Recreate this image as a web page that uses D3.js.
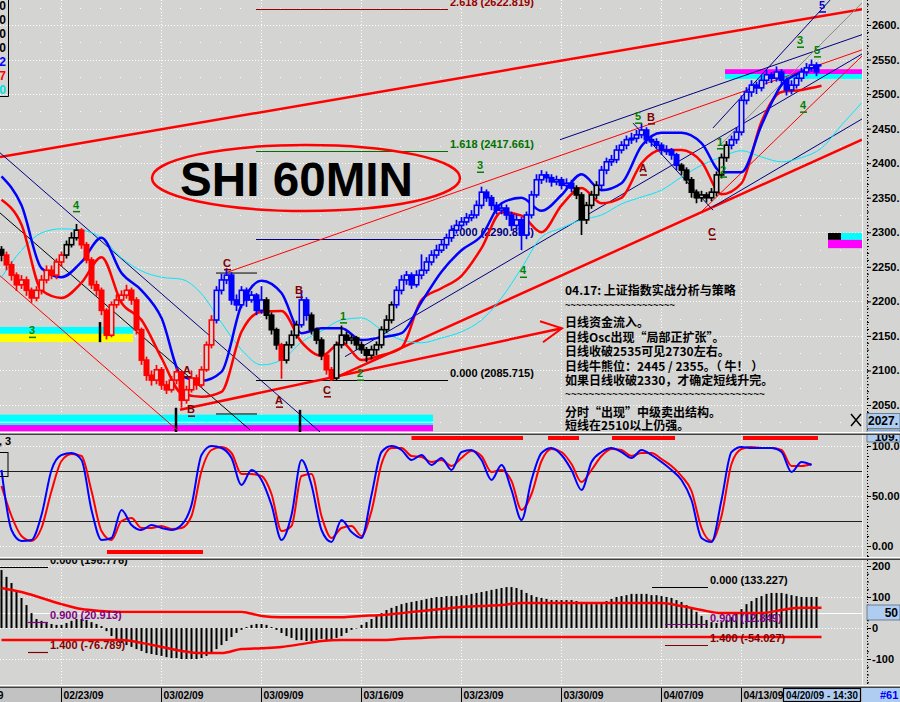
<!DOCTYPE html>
<html><head><meta charset="utf-8">
<script src="https://cdn.jsdelivr.net/npm/d3@7/dist/d3.min.js"></script>
<style>
html,body{margin:0;padding:0;background:#d4d4d2;}
svg{display:block;font-family:"Liberation Sans",Arial,sans-serif;}
</style></head><body>
<svg id="chart" width="900" height="702"></svg>
<script>
// ================= DATA =================
const dateLabels = ["02/16/09","02/23/09","03/02/09","03/09/09","03/16/09","03/23/09","03/30/09","04/07/09","04/13/09"];
const weekStartBar = [-8,12,32,52,72,92,112,132,148];
const priceTicks = [2050,2100,2150,2200,2250,2300,2350,2400,2450,2500,2550,2600];
const oscTicks = [0,50,100];
const oscTickLabels = ["0.00","50.00","100.0"];
const macdTicks = [-100,0,100,200];
const macdTickLabels = ["-100","0","100","200"];

const firstOpen = 2275;
const closes = [
2267,2253,2238,2224,2231,2216,2205,2216,2231,2245,
2238,2257,2267,2282,2292,2303,2282,2260,2224,2216,
2187,2151,2195,2202,2209,2216,2202,2159,2115,2093,
2086,2101,2079,2072,2086,2098,2057,2072,2089,2079,
2101,2137,2173,2216,2231,2238,2202,2195,2216,2202,
2209,2187,2202,2180,2159,2137,2115,2137,2151,2166,
2202,2180,2159,2144,2122,2101,2089,2137,2151,2144,
2147,2137,2130,2122,2130,2137,2159,2173,2195,2216,
2231,2238,2224,2238,2245,2257,2267,2274,2282,2292,
2303,2310,2315,2321,2325,2339,2358,2350,2339,2332,
2335,2325,2310,2318,2296,2325,2354,2376,2383,2379,
2373,2376,2368,2371,2364,2354,2318,2339,2354,2368,
2390,2402,2405,2419,2426,2434,2436,2441,2448,2434,
2431,2426,2419,2419,2412,2397,2390,2376,2358,2350,
2354,2350,2358,2383,2408,2426,2434,2445,2491,2503,
2513,2509,2520,2528,2523,2532,2520,2506,2513,2523,
2532,2538,2542,2532];
const highs = [
2280,2272,2258,2242,2238,2236,2220,2222,2238,2252,
2252,2262,2272,2288,2300,2312,2306,2286,2264,2230,
2220,2190,2200,2210,2216,2224,2220,2206,2162,2120,
2100,2108,2105,2085,2092,2104,2100,2078,2100,2094,
2106,2142,2180,2222,2240,2248,2242,2210,2222,2220,
2215,2212,2222,2206,2184,2162,2140,2142,2158,2172,
2216,2206,2184,2162,2148,2126,2105,2142,2165,2156,
2152,2150,2142,2134,2136,2142,2164,2180,2200,2222,
2238,2244,2242,2245,2268,2264,2274,2282,2290,2298,
2310,2318,2322,2328,2332,2346,2366,2362,2354,2344,
2342,2340,2330,2325,2322,2330,2360,2384,2390,2388,
2384,2382,2380,2378,2376,2368,2358,2344,2360,2374,
2396,2408,2412,2426,2432,2440,2444,2448,2458,2452,
2440,2436,2430,2426,2422,2415,2400,2394,2380,2362,
2360,2358,2364,2388,2414,2432,2440,2452,2498,2510,
2520,2518,2528,2535,2532,2540,2536,2524,2520,2530,
2538,2545,2550,2546];
const lows = [
2258,2245,2230,2215,2218,2208,2198,2200,2210,2226,
2232,2232,2250,2262,2278,2288,2276,2255,2218,2208,
2180,2145,2148,2190,2198,2204,2195,2152,2108,2085,
2078,2080,2072,2066,2068,2080,2046,2052,2068,2072,
2075,2098,2132,2168,2210,2225,2195,2186,2190,2192,
2198,2180,2182,2174,2152,2130,2088,2110,2132,2146,
2162,2172,2152,2138,2115,2094,2085,2086,2132,2138,
2138,2130,2124,2112,2116,2122,2132,2154,2168,2190,
2210,2224,2218,2220,2232,2240,2252,2262,2270,2276,
2286,2298,2305,2310,2316,2320,2334,2344,2332,2326,
2326,2318,2302,2304,2274,2290,2320,2350,2370,2372,
2366,2368,2362,2362,2358,2348,2296,2312,2334,2348,
2362,2384,2396,2400,2414,2420,2428,2430,2436,2428,
2424,2420,2412,2412,2405,2390,2383,2370,2350,2342,
2344,2343,2345,2352,2378,2402,2420,2428,2440,2485,
2496,2500,2504,2514,2516,2518,2512,2498,2500,2508,
2518,2526,2532,2526];
// trend state of each bar: K = neutral (black), R = down (red), B = up (blue)
const trendRuns = [["K",1],["R",12],["K",3],["R",27],["B",10],["K",3],["R",1],["K",3],["B",2],["K",3],["R",2],["K",12],["B",36],["K",5],["B",16],["K",10],["B",18]];

// indicator lines, one value every 4 bars
const bandStep = 4;
const blueBand = [2381,2339,2248,2235,2257,2292,2241,2216,2176,2092,2085,2098,2195,2230,2212,2154,2161,2161,2144,2148,2154,2199,2243,2274,2295,2342,2350,2331,2354,2384,2361,2371,2425,2444,2444,2429,2387,2387,2455,2513,2532,2542];
const redBand = [2347,2311,2216,2205,2227,2264,2198,2173,2118,2067,2062,2069,2156,2185,2186,2141,2121,2141,2115,2122,2133,2202,2219,2237,2277,2329,2324,2300,2339,2364,2342,2350,2400,2419,2419,2402,2355,2371,2460,2503,2506,2512];
const cyanAvg = [2235,2274,2299,2305,2303,2292,2263,2244,2235,2232,2211,2169,2130,2108,2115,2141,2157,2173,2176,2159,2144,2140,2147,2156,2173,2205,2248,2293,2306,2318,2325,2341,2351,2361,2380,2397,2409,2418,2409,2402,2408,2422,2455,2487];

// oscillator, one value every 2 bars
const oscStep = 2;
const oscFast = [76,16,5,6,31,76,91,93,86,36,6,8,36,21,16,21,18,16,21,41,91,100,98,88,61,76,66,41,6,31,86,61,16,4,26,14,8,51,94,100,96,86,91,81,88,76,94,96,86,66,81,56,26,66,93,98,91,76,56,84,94,98,94,88,96,91,84,76,66,46,8,4,46,94,99,98,98,98,94,74,84,81];
const oscSlow = [60,30,10,5,18,55,85,92,90,55,15,6,25,28,18,18,20,17,18,30,75,96,99,93,72,72,70,52,15,20,70,72,30,8,18,20,10,35,82,98,98,90,89,84,86,80,88,95,90,74,76,65,36,52,85,97,94,82,64,76,90,97,96,90,93,93,87,80,70,55,18,5,30,82,97,99,98,98,96,80,80,82];
// oscillator signal zones [fromBar, toBar, level]
const oscZones = [[82.0,104.3,108],[109.3,115.5,108],[122.1,134.7,108],[148.3,163.3,108],[21.1,40.3,-6]];

// MACD histogram, one value per bar
const macdHist = [
187,165,145,116,97,74,48,29,23,16,
13,10,10,16,23,29,29,26,19,13,
6,-10,-26,-39,-48,-55,-61,-68,-74,-81,
-84,-87,-90,-94,-97,-97,-100,-100,-100,-100,
-97,-90,-81,-68,-55,-42,-29,-16,-6,3,
10,13,13,10,3,-6,-16,-26,-32,-39,
-39,-42,-42,-39,-35,-39,-39,-32,-26,-16,
-6,0,10,19,29,39,48,58,65,71,
77,81,84,87,90,94,97,100,100,103,
103,103,106,106,110,113,116,119,123,126,
129,132,132,129,123,113,106,100,97,94,
90,90,90,90,90,87,84,81,77,77,
81,87,94,100,103,106,110,110,110,110,
106,106,103,100,97,90,84,74,65,52,
39,26,19,16,19,26,35,48,61,77,
87,97,103,110,113,113,113,110,106,103,
100,100,100,100];
const macdUpper = [129,116,97,77,61,55,52,52,52,52,52,52,52,39,35,35,35,35,39,42,48,55,61,68,71,74,81,81,81,81,81,81,81,81,71,58,48,48,48,58,65,65];
const macdLower = [-39,-39,-39,-39,-39,-39,-39,-48,-61,-74,-81,-81,-68,-65,-61,-52,-42,-39,-39,-39,-35,-32,-29,-29,-29,-29,-29,-29,-29,-29,-29,-29,-29,-29,-29,-29,-29,-29,-29,-29,-29,-29];

// Fibonacci projection (price panel)
const fibRatios = ["2.618","1.618","1.000","0.000"];
const fibPrices = [2622.819,2417.661,2290.875,2085.715];
const fibSpan = [50.9, 89.3];
// Fibonacci levels (MACD panel)
const macdFibRatios = ["0.000","0.900","1.400"];
const macdFibLeft = [196.776, 20.913, -76.789];
const macdFibRight = [133.227, 12.849, -54.027];

// Trend lines: [bar, price] -> [bar, price]
const trendLines = [
 {a:[-0.3,2409], b:[172.1,2623], k:"thickRed"},
 {a:[65.7,2086], b:[172.1,2434], k:"thickRed"},
 {a:[35.7,2043], b:[112.1,2161], k:"thickRed"},
 {a:[45.1,2242], b:[172.1,2564], k:"thinRed"},
 {a:[139.7,2328], b:[172.1,2555], k:"thinRed"},
 {a:[-0.3,2237], b:[35.1,2014], k:"thinRed"},
 {a:[68.7,2120], b:[172.1,2558], k:"navy"},
 {a:[142.3,2337], b:[172.1,2464], k:"navy"},
 {a:[111.7,2434], b:[172.1,2586], k:"navy"},
 {a:[142.3,2451], b:[165.7,2636], k:"navy"},
 {a:[126.3,2458], b:[142.3,2332], k:"navy"},
 {a:[-0.3,2415], b:[63.7,2011], k:"navy"},
 {a:[143.7,2426], b:[172.1,2632], k:"grey"},
 {a:[-0.3,2328], b:[49.7,2014], k:"black"}
];
// Zone bands [fromBar, toBar, priceTop, priceBottom, colour key]
const zones = [
 [-0.3,26.3,2163,2153,"c"],[-0.3,26.3,2153,2141,"y"],
 [-0.3,86.3,2036,2021,"c"],[-0.3,86.3,2021,2012,"m"],
 [144.7,173,2536,2529,"m"],[144.7,173,2529,2522,"c"],
 [165.3,167.9,2299,2289,"k"],[167.9,173,2299,2289,"c"],[165.3,173,2289,2277,"m"]
];
const markTicks = [[19.7,2170,2141],[34.9,2046,2011],[59.7,2043,2011]];
const shortLines = [[42.9,51.1,2241],[42.9,51.1,2037]];

// wave labels [text, bar, price, colour key]
const waveLabels = [
 ["3",6.1,2158,"g"],["4",14.9,2340,"g"],["A",37.1,2101,"r"],["B",37.9,2044,"r"],
 ["C",45.1,2256,"r"],["A",55.5,2057,"r"],["B",59.5,2216,"r"],["C",65.1,2072,"r"],
 ["1",68.3,2179,"g"],["2",71.7,2096,"g"],["3",95.7,2397,"g"],["4",104.3,2245,"g"],
 ["5",127.3,2468,"g"],["B",129.9,2467,"r"],["A",128.3,2393,"r"],["1",143.7,2431,"g"],
 ["2",144.3,2390,"g"],["C",142.1,2300,"r"],["4",160.3,2484,"g"],["3",159.7,2578,"g"],
 ["5",163.1,2564,"g"],["5",164.1,2629,"b"]
];
const noteLines = ["04.17: 上证指数实战分析与策略","~~~~~~~~~~~~~~~~~~~~","日线资金流入。","日线Osc出现“局部正扩张”。","日线收破2535可见2730左右。","日线牛熊位：2445 / 2355。（ 牛！ ）","如果日线收破2330，才确定短线升完。","~~~~~~~~~~~~~~~~~~~~~~~~~~~~~~~~~~","分时“出现”中级卖出结构。","短线在2510以上仍强。"];

// ================= DRAW =================
const BG = "#d4d4d2", PR = 862;
const col = {R:"#ff0000", B:"#0000ff", K:"#000000"};
const zoneCol = {c:"#00ffff", y:"#ffff00", m:"#ff00ff", k:"#000000"};
const labCol = {g:"#008000", r:"#800000", b:"#0000cc"};
const svg = d3.select("#chart");
svg.append("rect").attr("width",900).attr("height",702).attr("fill",BG);

const x = d3.scaleLinear().domain([0,1]).range([1.5,6.5]);
const yP = d3.scaleLinear().domain([2050,2600]).range([405,25]);
const yO = d3.scaleLinear().domain([0,100]).range([546,446]);
const yM = d3.scaleLinear().domain([0,100]).range([628,597]);

const defs = svg.append("defs");
function mkClip(id,y0,y1){ defs.append("clipPath").attr("id",id).append("rect").attr("x",0).attr("y",y0).attr("width",PR).attr("height",y1-y0); }
mkClip("cMain",0,432); mkClip("cOsc",435,557); mkClip("cMacd",560,685);

const weekX = weekStartBar.map(b => Math.round(x(b)) - 0.5);

// ---------- grids ----------
function grid(g, ys, y0, y1){
  g.selectAll(null).data(ys).join("line").attr("x1",0).attr("x2",PR)
    .attr("y1",d=>Math.round(d)+0.5).attr("y2",d=>Math.round(d)+0.5)
    .attr("stroke","#fff").attr("stroke-dasharray","1,2");
  g.selectAll(null).data(weekX).join("line").attr("x1",d=>d).attr("x2",d=>d)
    .attr("y1",y0).attr("y2",y1).attr("stroke","#fff").attr("stroke-dasharray","1,2");
}
const gMainGrid = svg.append("g").attr("clip-path","url(#cMain)");
grid(gMainGrid, priceTicks.map(yP), 0, 432);
const midRows = d3.range(2025, 2650, 50).map(yP);
const midCols = d3.range(20, PR, 20);
midRows.forEach(yy => gMainGrid.selectAll(null).data(midCols).join("rect")
  .attr("x",d=>d).attr("y",Math.round(yy)).attr("width",1).attr("height",1).attr("fill","#fff"));
const gOscGrid = svg.append("g").attr("clip-path","url(#cOsc)");
grid(gOscGrid, oscTicks.map(yO), 435, 557);
const gMacdGrid = svg.append("g").attr("clip-path","url(#cMacd)");
grid(gMacdGrid, macdTicks.map(yM), 560, 685);

// ---------- main panel ----------
const gM = svg.append("g").attr("clip-path","url(#cMain)");
gM.selectAll(null).data(zones).join("rect")
  .attr("x",d=>x(d[0])).attr("width",d=>x(d[1])-x(d[0]))
  .attr("y",d=>yP(d[2])).attr("height",d=>yP(d[3])-yP(d[2]))
  .attr("fill",d=>zoneCol[d[4]]);
gM.append("line").attr("x1",x(-0.3)).attr("x2",x(86.3)).attr("y1",yP(2025)).attr("y2",yP(2025)).attr("stroke","#fff").attr("stroke-width",1);
gM.selectAll(null).data(markTicks).join("line")
  .attr("x1",d=>x(d[0])).attr("x2",d=>x(d[0])).attr("y1",d=>yP(d[1])).attr("y2",d=>yP(d[2]))
  .attr("stroke","#000").attr("stroke-width",2.5);
gM.selectAll(null).data(shortLines).join("line")
  .attr("x1",d=>x(d[0])).attr("x2",d=>x(d[1])).attr("y1",d=>yP(d[2])).attr("y2",d=>yP(d[2]))
  .attr("stroke","#000").attr("stroke-width",1);

// fib lines & labels
const fibCols = ["#990000","#007000","#000080","#000000"];
fibPrices.forEach((p,i)=>{
  gM.append("line").attr("x1",x(fibSpan[0])).attr("x2",x(fibSpan[1]))
    .attr("y1",Math.round(yP(p))+0.5).attr("y2",Math.round(yP(p))+0.5)
    .attr("stroke",fibCols[i]).attr("stroke-width",1.2);
  gM.append("text").attr("x",x(fibSpan[1])+2).attr("y",yP(p)-3)
    .attr("font-size",11).attr("font-weight","bold").attr("fill",fibCols[i])
    .text(fibRatios[i]+" ("+p.toFixed(3)+")");
});

// trend lines
const tlStyle = {thickRed:["#ff0000",2.5], thinRed:["#ff0000",1], navy:["#000080",1], grey:["#8a8a8a",1], black:["#000000",1]};
gM.selectAll(null).data(trendLines).join("line")
  .attr("x1",d=>x(d.a[0])).attr("y1",d=>yP(d.a[1])).attr("x2",d=>x(d.b[0])).attr("y2",d=>yP(d.b[1]))
  .attr("stroke",d=>tlStyle[d.k][0]).attr("stroke-width",d=>tlStyle[d.k][1]);
const arrowTip = trendLines[2].b;
gM.append("path")
  .attr("d",`M${x(arrowTip[0])-22},${yP(arrowTip[1])-7}L${x(arrowTip[0])},${yP(arrowTip[1])}L${x(arrowTip[0])-19},${yP(arrowTip[1])+14}`)
  .attr("fill","none").attr("stroke","#ff0000").attr("stroke-width",2);

// indicator lines
function bandLine(arr, step, yS){ return d3.line().x((d,i)=>x(i*step)).y(d=>yS(d)).curve(d3.curveMonotoneX)(arr); }
gM.append("path").attr("d",bandLine(cyanAvg,bandStep,yP)).attr("fill","none").attr("stroke","#00e8ff").attr("stroke-width",1);
gM.append("path").attr("d",bandLine(redBand,bandStep,yP)).attr("fill","none").attr("stroke","#ff0000").attr("stroke-width",2.5);
gM.append("path").attr("d",bandLine(blueBand,bandStep,yP)).attr("fill","none").attr("stroke","#0000ff").attr("stroke-width",2.5);

// candles
const states = trendRuns.flatMap(([s,n]) => Array(n).fill(s));
const bars = closes.map((c,i)=>({i, o: i ? closes[i-1] : firstOpen, c, h: highs[i], l: lows[i], s: states[i]}));
const gC = gM.append("g");
gC.selectAll(null).data(bars).join("line")
  .attr("x1",d=>x(d.i)).attr("x2",d=>x(d.i))
  .attr("y1",d=>yP(Math.max(d.h,d.o,d.c))).attr("y2",d=>yP(Math.min(d.l,d.o,d.c)))
  .attr("stroke",d=>col[d.s]).attr("stroke-width",1.7);
gC.selectAll(null).data(bars).join("rect")
  .attr("x",d=>x(d.i)-2.2).attr("width",4.4)
  .attr("y",d=>yP(Math.max(d.o,d.c))).attr("height",d=>Math.max(1.5,Math.abs(yP(d.o)-yP(d.c))))
  .attr("fill",d=>d.c>=d.o ? BG : col[d.s]).attr("stroke",d=>col[d.s]).attr("stroke-width",1.6);

// wave labels
const gL = gM.append("g").attr("font-size",11).attr("font-weight","bold").attr("text-anchor","middle");
gL.selectAll(null).data(waveLabels).join("text")
  .attr("x",d=>x(d[1])).attr("y",d=>yP(d[2])+4).attr("fill",d=>labCol[d[3]]).text(d=>d[0]);
gL.selectAll(null).data(waveLabels).join("line")
  .attr("x1",d=>x(d[1])-3).attr("x2",d=>x(d[1])+4).attr("y1",d=>yP(d[2])+7).attr("y2",d=>yP(d[2])+7)
  .attr("stroke",d=>labCol[d[3]]).attr("stroke-width",1.5);

// title ellipse
const titleAt = [60.9, 2378.6];
gM.append("ellipse").attr("cx",x(titleAt[0])).attr("cy",yP(titleAt[1])).attr("rx",154).attr("ry",33)
  .attr("fill","none").attr("stroke","#ff0000").attr("stroke-width",2.5);
gM.append("text").attr("x",x(titleAt[0])-126).attr("y",yP(titleAt[1])+18)
  .attr("font-size",48).attr("font-weight","bold").attr("fill","#000")
  .attr("textLength",233).attr("lengthAdjust","spacingAndGlyphs").text("SHI 60MIN");

// notes (Chinese)
const noteX = x(112.7);
const noteY = [295,309,327,341.5,355.5,370.5,384.5,398,416.5,429.5];
const gN = gM.append("g").attr("font-family","'Noto Sans CJK SC',sans-serif").attr("font-size",12).attr("font-weight","bold").attr("fill","#000");
noteLines.forEach((t,i)=>{
  const tx = gN.append("text").attr("x",noteX).attr("y",noteY[i]).text(t);
  if (t[0]==="~") tx.attr("textLength", i===1 ? 110 : 200).attr("lengthAdjust","spacingAndGlyphs").attr("font-family","'Liberation Sans',sans-serif").attr("font-weight","normal");
});

// left legend stub
const legendVals = [["0","#000"],["0","#000"],["0","#000"],["0","#000"],["2","#0000ff"],["7","#ff0000"],["0","#00e0e0"]];
const gLg = svg.append("g").attr("font-size",12).attr("font-weight","bold").attr("text-anchor","end");
gLg.selectAll(null).data(legendVals).join("text").attr("x",6).attr("y",(d,i)=>10+14*i).attr("fill",d=>d[1]).text(d=>d[0]);
svg.append("path").attr("d","M8.5,0V96.5H0").attr("fill","none").attr("stroke","#000").attr("stroke-width",1);

svg.append("path").attr("d","M851,414L861,426M851,426L861,414").attr("stroke","#000").attr("stroke-width",1.5);

// ---------- oscillator panel ----------
const gO = svg.append("g").attr("clip-path","url(#cOsc)");
[75,25].forEach(v => gO.append("line").attr("x1",0).attr("x2",PR).attr("y1",Math.round(yO(v))+0.5).attr("y2",Math.round(yO(v))+0.5).attr("stroke","#202020").attr("stroke-width",1));
gO.selectAll(null).data(oscZones).join("line")
  .attr("x1",d=>x(d[0])).attr("x2",d=>x(d[1])).attr("y1",d=>yO(d[2])).attr("y2",d=>yO(d[2]))
  .attr("stroke","#ff0000").attr("stroke-width",4);
gO.append("path").attr("d",bandLine(oscSlow,oscStep,yO)).attr("fill","none").attr("stroke","#ff0000").attr("stroke-width",2);
gO.append("path").attr("d",bandLine(oscFast,oscStep,yO)).attr("fill","none").attr("stroke","#0000ff").attr("stroke-width",2);
svg.append("text").attr("x",-1).attr("y",445).attr("font-size",11).attr("font-weight","bold").text(", 3");
svg.append("rect").attr("x",-1).attr("y",452.5).attr("width",9).attr("height",24).attr("fill","none").attr("stroke","#000");

// ---------- MACD panel ----------
const gH = svg.append("g").attr("clip-path","url(#cMacd)");
gH.append("line").attr("x1",0).attr("x2",PR).attr("y1",Math.round(yM(50))+0.5).attr("y2",Math.round(yM(50))+0.5).attr("stroke","#fff");
gH.selectAll(null).data(macdHist).join("rect")
  .attr("x",(d,i)=>x(i)-1).attr("width",2)
  .attr("y",d=>Math.min(yM(d),yM(0))).attr("height",d=>Math.max(0.5,Math.abs(yM(d)-yM(0))))
  .attr("fill","#000");
gH.append("path").attr("d",bandLine(macdUpper,bandStep,yM)).attr("fill","none").attr("stroke","#ff0000").attr("stroke-width",2.5);
gH.append("path").attr("d",bandLine(macdLower,bandStep,yM)).attr("fill","none").attr("stroke","#ff0000").attr("stroke-width",2.5);
const mfCol = ["#000000","#800080","#800000"];
function macdFib(vals, lineFrom0, lineFrom, lineTo){
  vals.forEach((v,i)=>{
    gH.append("line").attr("x1",x(i===0?lineFrom0:lineFrom)).attr("x2",x(lineTo))
      .attr("y1",Math.round(yM(v))+0.5).attr("y2",Math.round(yM(v))+0.5)
      .attr("stroke",mfCol[i]).attr("stroke-width",1.2);
    gH.append("text").attr("x",x(lineTo)+2).attr("y",yM(v)-2.5)
      .attr("font-size",11).attr("font-weight","bold").attr("fill",mfCol[i])
      .text(macdFibRatios[i]+" ("+v.toFixed(3)+")");
  });
}
macdFib(macdFibLeft, -0.3, 5.3, 9.3);
macdFib(macdFibRight, 130.1, 132.7, 141.3);

// ---------- right axes ----------
svg.append("line").attr("x1",862.5).attr("x2",862.5).attr("y1",0).attr("y2",688).attr("stroke","#f4f4f4");
function styleAxis(g){
  g.attr("font-size",11).attr("font-weight","bold").attr("font-family","'Liberation Sans',Arial,sans-serif");
  g.select(".domain").remove();
  g.selectAll(".tick line").attr("stroke","#000");
  g.selectAll(".tick text").attr("fill","#000");
}
function rightAxis(scale, ticks, labels, y0, y1, minorStep){
  svg.append("line").attr("x1",867.5).attr("x2",867.5).attr("y1",y0).attr("y2",y1).attr("stroke","#000").attr("stroke-dasharray","1,2");
  const mn = d3.range(Math.ceil(scale.invert(y1)/minorStep)*minorStep, scale.invert(y0), minorStep);
  const gm = svg.append("g").attr("transform","translate(867,0)")
    .call(d3.axisRight(scale).tickValues(mn).tickSize(2).tickFormat(""));
  styleAxis(gm);
  const g = svg.append("g").attr("transform","translate(867,0)")
    .call(d3.axisRight(scale).tickValues(ticks).tickFormat((d,i)=>labels[i]).tickSize(4).tickPadding(1));
  styleAxis(g);
}
rightAxis(yP, priceTicks, priceTicks.map(d=>d+"."), 0, 432, 10);
rightAxis(yO, oscTicks, oscTickLabels, 435, 557, 10);
rightAxis(yM, macdTicks, macdTickLabels, 560, 685, 25);

function valueBox(yy, label, h){
  svg.append("rect").attr("x",867).attr("y",yy-h/2).attr("width",33).attr("height",h).attr("fill","#aecdf0").attr("stroke","#5a6a80").attr("stroke-width",0.8);
  svg.append("text").attr("x",898).attr("y",yy+4.5).attr("text-anchor","end").attr("font-size",12).attr("font-weight","bold").attr("fill","#000").text(label);
}
valueBox(yP(2027), "2027.", 15);
valueBox(yO(110), "109.", 12);
valueBox(yM(50), "50", 15);

// ---------- panel separators ----------
function sep(y){
  svg.append("rect").attr("x",0).attr("y",y).attr("width",900).attr("height",1).attr("fill","#ffffff");
  svg.append("rect").attr("x",0).attr("y",y+1).attr("width",900).attr("height",1).attr("fill","#9a9a9a");
  svg.append("rect").attr("x",0).attr("y",y+2).attr("width",900).attr("height",1).attr("fill","#404040");
}
sep(432); sep(557); sep(685);

// ---------- date axis ----------
svg.append("rect").attr("x",0).attr("y",688).attr("width",900).attr("height",14).attr("fill","#c2c2c2");
const gx = svg.append("g").attr("transform","translate(-0.5,688)")
  .call(d3.axisBottom(x).tickValues(weekStartBar).tickFormat((d,i)=>dateLabels[i]).tickSize(14).tickPadding(0));
gx.attr("font-size",11).attr("font-weight","bold").attr("font-family","'Liberation Sans',Arial,sans-serif");
gx.select(".domain").remove();
gx.selectAll(".tick line").attr("stroke","#000");
gx.selectAll(".tick text").attr("text-anchor","start").attr("x",2).attr("y",3).attr("dy","0.71em")
  .attr("fill","#000").attr("textLength",40).attr("lengthAdjust","spacingAndGlyphs");
svg.append("rect").attr("x",783.5).attr("y",688.5).attr("width",77).attr("height",13).attr("fill","#aecdf0").attr("stroke","#000").attr("stroke-width",1.2);
svg.append("text").attr("x",786).attr("y",699).attr("font-size",11).attr("font-weight","bold")
  .attr("textLength",72).attr("lengthAdjust","spacingAndGlyphs").text("04/20/09 - 14:30");
svg.append("rect").attr("x",862).attr("y",688).attr("width",38).attr("height",14).attr("fill","#aecdf0");
svg.append("text").attr("x",880).attr("y",699).attr("font-size",11).attr("font-weight","bold").attr("fill","#0000ff").text("#61");
</script>
</body></html>
